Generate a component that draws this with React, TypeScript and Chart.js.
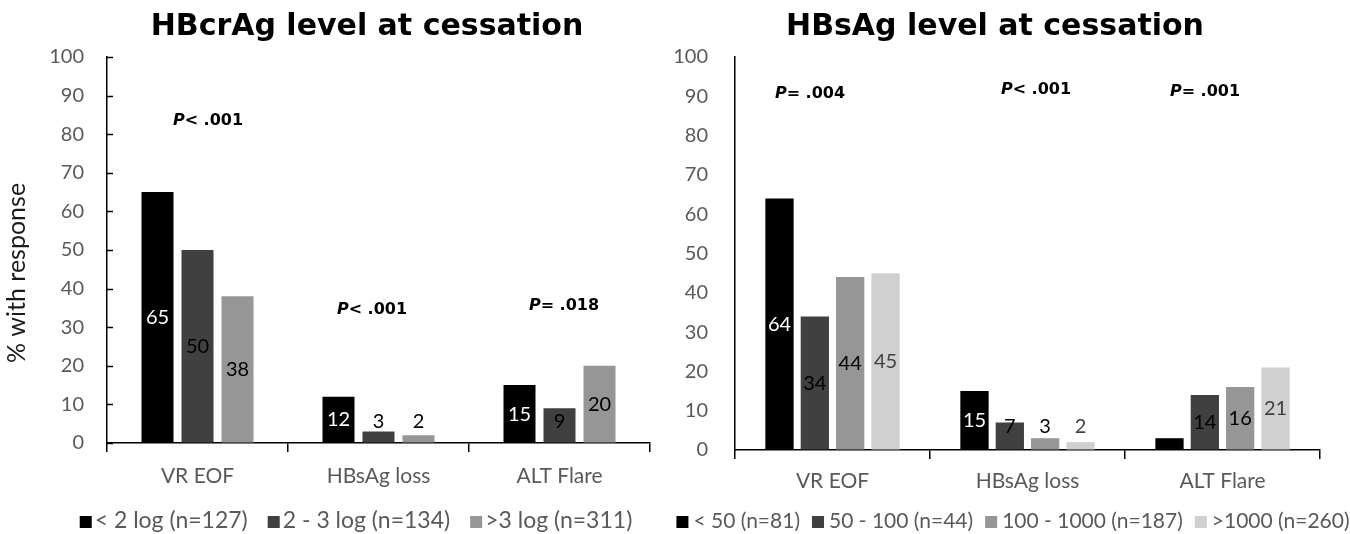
import React, { useEffect, useRef } from "react";
import { Chart, registerables } from "chart.js";

Chart.register(...registerables);

// ---------- data ----------
const categories = ["VR EOF", "HBsAg loss", "ALT Flare"];

// Left panel: HBcrAg level at cessation
const crTitle = "HBcrAg level at cessation";
const crSeriesNames = ["< 2 log (n=127)", "2 - 3 log (n=134)", ">3 log (n=311)"];
const crLow = [65, 12, 15];
const crMid = [50, 3, 9];
const crHigh = [38, 2, 20];
const crPText = ["< .001", "< .001", "= .018"];
const crPAt = [84, 35, 36];

// Right panel: HBsAg level at cessation
const sTitle = "HBsAg level at cessation";
const sSeriesNames = ["< 50 (n=81)", "50 - 100 (n=44)", "100 - 1000 (n=187)", ">1000 (n=260)"];
const sLt50 = [64, 15, 3];
const s50to100 = [34, 7, 14];
const s100to1000 = [44, 3, 16];
const sGt1000 = [45, 2, 21];
const sLt50Shown = [true, true, false];
const sPText = ["= .004", "< .001", "= .001"];
const sPAt = [91, 92, 91.5];

const yAxisTitle = "% with response";

// ---------- styles ----------
const C_BLACK = "#000000";
const C_DARK = "#404040";
const C_MID = "#969696";
const C_LIGHT = "#d0d0d0";
const TXT_GREY = "#595959";
const LABEL_FONT = '20px Lato';
const TICK_FONT_SIZE = 20;
const XLABEL_FONT_SIZE = 21;
const TITLE_FONT = 'bold 30px "DejaVu Sans"';
const P_SIZE = 16;

const overlayPlugin = {
  id: "overlay",
  afterDatasetsDraw(chart: any, _args: any, opts: any) {
    const { ctx, chartArea } = chart;
    const x = chart.scales.x;
    const y = chart.scales.y;
    ctx.save();

    // inner y ticks
    if (opts.innerTicks) {
      ctx.strokeStyle = "#000";
      ctx.lineWidth = 1.5;
      y.ticks.forEach((t: any) => {
        const py = Math.round(y.getPixelForValue(t.value)) + 0.5;
        ctx.beginPath();
        ctx.moveTo(chartArea.left, py);
        ctx.lineTo(chartArea.left + 6, py);
        ctx.stroke();
      });
    }

    // data labels
    ctx.font = LABEL_FONT;
    ctx.textAlign = "center";
    ctx.textBaseline = "middle";
    chart.data.datasets.forEach((ds: any, di: number) => {
      const meta = chart.getDatasetMeta(di);
      meta.data.forEach((bar: any, i: number) => {
        const shown = opts.shown && opts.shown[di] ? opts.shown[di][i] : true;
        if (!shown) return;
        const v = ds.data[i];
        const py = y.getPixelForValue(Math.max(v / 2, opts.labelFloor));
        ctx.fillStyle = opts.labelColors[di];
        ctx.fillText(String(v), bar.x, py);
      });
    });

    // P values
    opts.pText.forEach((txt: string, i: number) => {
      const cx = x.getPixelForValue(i) + opts.pDx[i];
      const cy = y.getPixelForValue(opts.pAt[i]);
      const base = cy + P_SIZE * 0.36;
      const fP = `italic bold ${P_SIZE}px "DejaVu Sans"`;
      const fR = `bold ${P_SIZE}px "DejaVu Sans"`;
      ctx.font = fP;
      const wP = ctx.measureText("P").width;
      ctx.font = fR;
      const wR = ctx.measureText(txt).width;
      const x0 = cx - (wP + wR) / 2;
      ctx.fillStyle = "#000";
      ctx.textAlign = "left";
      ctx.textBaseline = "alphabetic";
      ctx.font = fP;
      ctx.fillText("P", x0, base);
      ctx.font = fR;
      ctx.fillText(txt, x0 + wP, base);
    });

    // title
    ctx.font = TITLE_FONT;
    ctx.fillStyle = "#000";
    ctx.textAlign = "center";
    ctx.textBaseline = "alphabetic";
    ctx.fillText(opts.title, opts.titleX, opts.titleBase);

    // y title
    if (opts.yTitle) {
      ctx.save();
      ctx.translate(opts.yTitleX, opts.yTitleY);
      ctx.rotate(-Math.PI / 2);
      ctx.font = '25px Lato';
      ctx.fillStyle = "#1a1a1a";
      ctx.textAlign = "center";
      ctx.textBaseline = "middle";
      ctx.fillText(opts.yTitle, 0, 0);
      ctx.restore();
    }

    // legend
    ctx.font = `${opts.legendSize}px Lato`;
    const box = 12;
    const items = chart.data.datasets.map((ds: any) => ({
      text: ds.label,
      color: ds.backgroundColor,
      w: ctx.measureText(ds.label).width,
    }));
    const total =
      items.reduce((s: number, it: any) => s + box + opts.legendBoxGap + it.w, 0) +
      opts.legendItemGap * (items.length - 1);
    let lx = opts.legendCenterX - total / 2;
    items.forEach((it: any) => {
      ctx.fillStyle = it.color;
      ctx.fillRect(lx, opts.legendY - box / 2 + 1, box, box);
      ctx.fillStyle = TXT_GREY;
      ctx.textAlign = "left";
      ctx.textBaseline = "middle";
      ctx.fillText(it.text, lx + box + opts.legendBoxGap, opts.legendY);
      lx += box + opts.legendBoxGap + it.w + opts.legendItemGap;
    });

    ctx.restore();
  },
};

function makeScales(yWidth: number, xHeight: number, yPad: number, xPad: number) {
  return {
    x: {
      grid: {
        display: true,
        drawOnChartArea: false,
        drawTicks: true,
        tickLength: 9,
        color: "#000",
        lineWidth: 1.5,
        offset: true,
      },
      border: { display: true, color: "#000", width: 1.5 },
      ticks: { font: { family: "Lato", size: XLABEL_FONT_SIZE }, color: TXT_GREY, padding: xPad },
      afterFit: (s: any) => {
        s.height = xHeight;
      },
    },
    y: {
      min: 0,
      max: 100,
      ticks: { stepSize: 10, font: { family: "Lato", size: TICK_FONT_SIZE }, color: TXT_GREY, padding: yPad },
      grid: { display: true, drawOnChartArea: false, drawTicks: false },
      border: { display: true, color: "#000", width: 1.5 },
      afterFit: (s: any) => {
        s.width = yWidth;
      },
    },
  };
}

export default function App() {
  const leftRef = useRef<HTMLCanvasElement | null>(null);
  const rightRef = useRef<HTMLCanvasElement | null>(null);

  useEffect(() => {
    let left: Chart | null = null;
    let right: Chart | null = null;
    let cancelled = false;

    const build = () => {
      if (cancelled || !leftRef.current || !rightRef.current) return;
      left = new Chart(leftRef.current, {
        type: "bar",
        data: {
          labels: categories,
          datasets: [
            { label: crSeriesNames[0], data: crLow, backgroundColor: C_BLACK },
            { label: crSeriesNames[1], data: crMid, backgroundColor: C_DARK },
            { label: crSeriesNames[2], data: crHigh, backgroundColor: C_MID },
          ].map((d) => ({ ...d, categoryPercentage: 0.663, barPercentage: 0.8 })),
        },
        options: {
          animation: false,
          responsive: false,
          layout: { padding: { left: 0, right: 15, top: 57, bottom: 0 } },
          scales: makeScales(107, 91, 23, 12) as any,
          plugins: {
            legend: { display: false },
            title: { display: false },
            tooltip: { enabled: false },
            overlay: {
              innerTicks: true,
              labelFloor: 5.6,
              labelColors: ["#ffffff", "#000000", "#000000"],
              pText: crPText,
              pAt: crPAt,
              pDx: [10.5, -6.5, 4.5],
              title: crTitle,
              titleX: 367,
              titleBase: 35,
              yTitle: yAxisTitle,
              yTitleX: 16.5,
              yTitleY: 273,
              legendCenterX: 356,
              legendY: 521,
              legendSize: 23,
              legendBoxGap: 3,
              legendItemGap: 20,
            },
          } as any,
        },
        plugins: [overlayPlugin],
      });

      right = new Chart(rightRef.current, {
        type: "bar",
        data: {
          labels: categories,
          datasets: [
            { label: sSeriesNames[0], data: sLt50, backgroundColor: C_BLACK },
            { label: sSeriesNames[1], data: s50to100, backgroundColor: C_DARK },
            { label: sSeriesNames[2], data: s100to1000, backgroundColor: C_MID },
            { label: sSeriesNames[3], data: sGt1000, backgroundColor: C_LIGHT },
          ].map((d) => ({ ...d, categoryPercentage: 0.725, barPercentage: 0.8 })),
        },
        options: {
          animation: false,
          responsive: false,
          layout: { padding: { left: 0, right: 30, top: 57, bottom: 0 } },
          scales: makeScales(70, 84, 27, 10) as any,
          plugins: {
            legend: { display: false },
            title: { display: false },
            tooltip: { enabled: false },
            overlay: {
              innerTicks: false,
              labelFloor: 5.9,
              labelColors: ["#ffffff", "#000000", "#000000", "#404040"],
              shown: [sLt50Shown, null, null, null],
              pText: sPText,
              pAt: sPAt,
              pDx: [-22.5, 8.5, -17.5],
              title: sTitle,
              titleX: 330,
              titleBase: 35,
              yTitle: null,
              legendCenterX: 348,
              legendY: 521,
              legendSize: 21,
              legendBoxGap: 5,
              legendItemGap: 12,
            },
          } as any,
        },
        plugins: [overlayPlugin],
      });
    };

    const fonts = (document as any).fonts;
    if (fonts && fonts.load) {
      Promise.all([
        fonts.load("20px Lato"),
        fonts.load('bold 30px "DejaVu Sans"'),
        fonts.load('italic bold 16px "DejaVu Sans"'),
      ])
        .catch(() => {})
        .then(build);
    } else {
      build();
    }

    return () => {
      cancelled = true;
      if (left) left.destroy();
      if (right) right.destroy();
    };
  }, []);

  return (
    <div style={{ position: "absolute", left: 0, top: 0, width: 1350, height: 534, background: "#fff" }}>
      <canvas
        ref={leftRef}
        width={665}
        height={534}
        style={{ position: "absolute", left: 0, top: 0, width: 665, height: 534 }}
      />
      <canvas
        ref={rightRef}
        width={685}
        height={534}
        style={{ position: "absolute", left: 665, top: 0, width: 685, height: 534 }}
      />
    </div>
  );
}
